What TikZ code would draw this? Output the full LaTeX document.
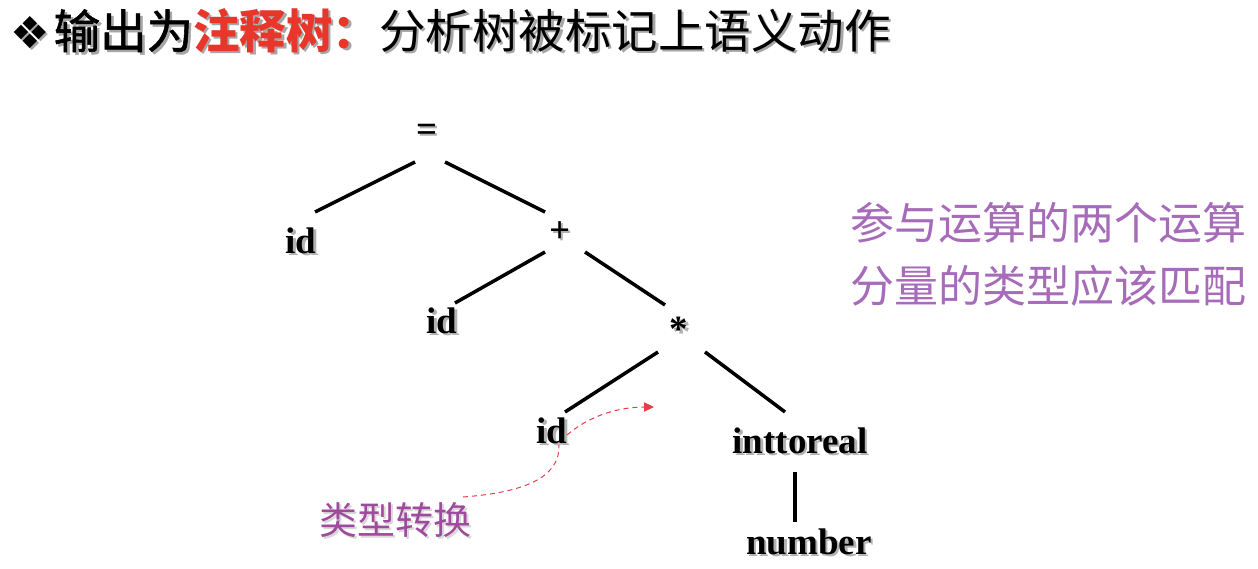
\documentclass[tikz,border=0pt]{standalone}
\usepackage{fontspec}
\setmainfont{Liberation Serif}
\newfontfamily\cjk{Noto Sans CJK SC}
\newfontfamily\cjkm[FakeBold=1.2]{Noto Sans CJK SC}
\newfontfamily\sym{DejaVu Sans}
\usepackage{tikz}
\usetikzlibrary{arrows.meta}
\definecolor{titlered}{RGB}{232,54,42}
\definecolor{notepurple}{RGB}{166,108,186}
\definecolor{convpurple}{RGB}{160,74,158}
\definecolor{dashred}{RGB}{232,60,72}
\newcommand{\shd}[2][black!30]{\leavevmode\rlap{\kern2.5pt\raisebox{-2.5pt}{\textcolor{#1}{#2}}}#2}
\tikzset{%
  tipR/.tip={Triangle[angle=50:11pt]},
  lbl/.style={font=\fontsize{37}{40}\selectfont\bfseries, inner sep=0pt},
  edge/.style={line width=3.5pt},
  convline/.style={dashed, dashred, line width=1pt, dash pattern=on 5pt off 4pt}
}

\begin{document}
\begin{tikzpicture}[x=1pt,y=-1pt]
\useasboundingbox (0,0) rectangle (1258,568);
\node [anchor=west, inner sep=0pt] (title) at (10,32) {{\sym\fontsize{44}{48}\selectfont\shd[black!35]{❖}}\kern4pt{\fontsize{46.5}{50}\selectfont{\cjkm\shd[black!35]{输出为}}\textcolor{titlered}{\cjk\bfseries\shd[black!35]{注释树：}}{\cjk\shd[black!35]{分析树被标记上语义动作}}}};
\node [lbl] (eq) at (427,134) {\shd{=}};
\node [lbl] (id1) at (301,242) {\shd{id}};
\node [lbl] (plus) at (560,233) {\shd{+}};
\node [lbl] (id2) at (442,322) {\shd{id}};
\node [lbl] (times) at (679,331) {\shd{*}};
\node [lbl] (id3) at (552,432) {\shd{id}};
\node [lbl] (intr) at (800,442) {\shd{inttoreal}};
\node [lbl] (num) at (809,543) {\shd{number}};
\node [inner sep=0pt, align=center, notepurple, font=\cjk\fontsize{44}{63}\selectfont] (note) at (1048,254) {参与运算的两个运算\\分量的类型应该匹配};
\node [inner sep=0pt, convpurple, font=\cjk\fontsize{38}{42}\selectfont] (conv) at (395,521) {\shd[black!15]{类型转换}};
\coordinate (tip) at (654,407);
\draw [edge] ([shift={(-12,28)}]eq.center) -- ([shift={(14,-30)}]id1.center);
\draw [edge] ([shift={(18,28)}]eq.center) -- ([shift={(-15,-21)}]plus.center);
\draw [edge] ([shift={(-15,19)}]plus.center) -- ([shift={(13,-19)}]id2.center);
\draw [edge] ([shift={(25,19)}]plus.center) -- ([shift={(-14,-26)}]times.center);
\draw [edge] ([shift={(-21,21)}]times.center) -- ([shift={(13,-20)}]id3.center);
\draw [edge] ([shift={(26,21)}]times.center) -- ([shift={(-15,-30)}]intr.center);
\draw [edge] ([shift={(-5,30)}]intr.center) -- ([shift={(-14,-21)}]num.center);
\draw [convline] ([shift={(68,-24)}]conv.center) .. controls (530,492) and (560,475) .. ([shift={(7,13)}]id3.center);
\draw [convline, -{tipR}] ([shift={(15,3)}]id3.center) .. controls (590,415) and (620,407) .. (tip);
\end{tikzpicture}
\end{document}
